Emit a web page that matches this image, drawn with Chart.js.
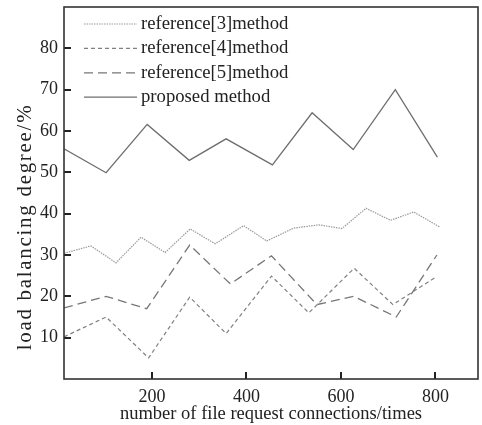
<!DOCTYPE html>
<html>
<head>
<meta charset="utf-8">
<script src="https://cdn.jsdelivr.net/npm/chart.js@4.4.0/dist/chart.umd.min.js"></script>
<style>
  html, body { margin: 0; padding: 0; background: #fff; }
  #wrap { width: 482px; height: 425px; }
</style>
</head>
<body>
<div id="wrap"><canvas id="loadChart"></canvas></div>
<script>
// x = number of file request connections, y = load balancing degree (%)
const xRef3 = [14, 71, 124, 177, 228, 281, 334, 394, 443, 500, 553, 602, 653, 705, 754, 809];
const ref3 = [30.4, 32.2, 28.1, 34.3, 30.6, 36.3, 32.7, 37.1, 33.4, 36.5, 37.3, 36.4, 41.3, 38.4, 40.4, 36.8];

const xRef4 = [14, 103, 193, 280, 357, 453, 532, 628, 710, 800];
const ref4 = [10.2, 15.0, 5.1, 19.8, 11.0, 24.9, 16.0, 26.8, 18.0, 24.6];

const xRef5 = [14, 103, 189, 280, 366, 453, 549, 627, 717, 803];
const ref5 = [17.2, 20.0, 17.0, 32.4, 23.0, 29.8, 18.0, 20.0, 15.0, 30.0];

const xProposed = [14, 103, 190, 279, 357, 455, 539, 626, 715, 804];
const proposed = [55.7, 49.9, 61.6, 52.9, 58.1, 51.8, 64.4, 55.5, 70.0, 53.7];

const labels = ['reference[3]method', 'reference[4]method', 'reference[5]method', 'proposed method'];
const yTicks = [10, 20, 30, 40, 50, 60, 70, 80];
const xTicks = [200, 400, 600, 800];
const xTitle = 'number of file request connections/times';
const yTitle = 'load balancing degree/%';

const serif = '"Liberation Serif", "Times New Roman", serif';

function pts(xs, ys) {
  return xs.map(function (x, i) { return { x: x, y: ys[i] }; });
}

// inward tick marks, box frame, y title and legend inside the plot
const frameAndLegend = {
  id: 'frameAndLegend',
  afterDraw(chart) {
    const ctx = chart.ctx;
    const a = chart.chartArea;
    const xs = chart.scales.x, ys = chart.scales.y;
    ctx.save();
    ctx.strokeStyle = '#222';
    ctx.lineWidth = 2;
    ctx.beginPath();
    yTicks.forEach(function (v) {
      const p = Math.round(ys.getPixelForValue(v));
      ctx.moveTo(a.left, p);
      ctx.lineTo(a.left + 7, p);
    });
    xTicks.forEach(function (v) {
      const p = Math.round(xs.getPixelForValue(v));
      ctx.moveTo(p, a.bottom);
      ctx.lineTo(p, a.bottom - 7);
    });
    ctx.stroke();

    ctx.lineWidth = 1.6;
    ctx.strokeStyle = '#333';
    ctx.strokeRect(a.left, a.top, a.right - a.left, a.bottom - a.top);

    ctx.font = '18.7px ' + serif;
    ctx.textBaseline = 'middle';
    chart.data.datasets.forEach(function (ds, i) {
      const y = a.top + 17 + i * 24.4;
      ctx.beginPath();
      ctx.setLineDash(ds.borderDash || []);
      ctx.strokeStyle = ds.borderColor;
      ctx.lineWidth = ds.borderWidth;
      ctx.moveTo(a.left + 20, y);
      ctx.lineTo(a.left + 73, y);
      ctx.stroke();
      ctx.setLineDash([]);
      ctx.fillStyle = '#222';
      ctx.fillText(ds.label, a.left + 77, y);
    });

    // y title is spread out in the original, so draw it here with letter spacing
    ctx.save();
    ctx.translate(25, 227);
    ctx.rotate(-Math.PI / 2);
    ctx.font = '21px ' + serif;
    ctx.letterSpacing = '1.7px';
    ctx.textAlign = 'center';
    ctx.fillStyle = '#222';
    ctx.fillText(yTitle, 0, 0);
    ctx.restore();

    ctx.restore();
  }
};

new Chart(document.getElementById('loadChart'), {
  type: 'line',
  data: {
    datasets: [{
      label: labels[0],
      data: pts(xRef3, ref3),
      borderColor: '#9a9a9a',
      borderWidth: 1.2,
      borderDash: [1.5, 1]
    }, {
      label: labels[1],
      data: pts(xRef4, ref4),
      borderColor: '#808080',
      borderWidth: 1.2,
      borderDash: [4, 3]
    }, {
      label: labels[2],
      data: pts(xRef5, ref5),
      borderColor: '#777777',
      borderWidth: 1.3,
      borderDash: [9, 5]
    }, {
      label: labels[3],
      data: pts(xProposed, proposed),
      borderColor: '#6e6e6e',
      borderWidth: 1.3
    }]
  },
  options: {
    responsive: true,
    maintainAspectRatio: false,
    animation: false,
    layout: {
      padding: { top: 7, right: 4, left: 0, bottom: 0 }
    },
    elements: {
      line: { tension: 0, fill: false },
      point: { radius: 0, hoverRadius: 0 }
    },
    plugins: {
      legend: { display: false },
      tooltip: { enabled: false }
    },
    scales: {
      x: {
        type: 'linear',
        min: 14,
        max: 890,
        afterBuildTicks: function (scale) {
          scale.ticks = xTicks.map(function (v) { return { value: v }; });
        },
        afterFit: function (scale) {
          scale.height = 46;
          scale.paddingLeft = 0;
          scale.paddingRight = 0;
        },
        border: { display: false },
        grid: { display: false, drawTicks: false },
        ticks: {
          color: '#222',
          padding: 7,
          maxRotation: 0,
          font: { family: serif, size: 18 }
        },
        title: {
          display: true,
          text: xTitle,
          color: '#222',
          padding: { top: 0, bottom: 0 },
          font: { family: serif, size: 18.5 }
        }
      },
      y: {
        min: 0,
        max: 90,
        afterBuildTicks: function (scale) {
          scale.ticks = yTicks.map(function (v) { return { value: v }; });
        },
        afterFit: function (scale) {
          scale.width = 64;
          scale.paddingTop = 0;
          scale.paddingBottom = 0;
        },
        border: { display: false },
        grid: { display: false, drawTicks: false },
        ticks: {
          color: '#222',
          padding: 6,
          font: { family: serif, size: 18 }
        },
        title: { display: false }
      }
    }
  },
  plugins: [frameAndLegend]
});
</script>
</body>
</html>
